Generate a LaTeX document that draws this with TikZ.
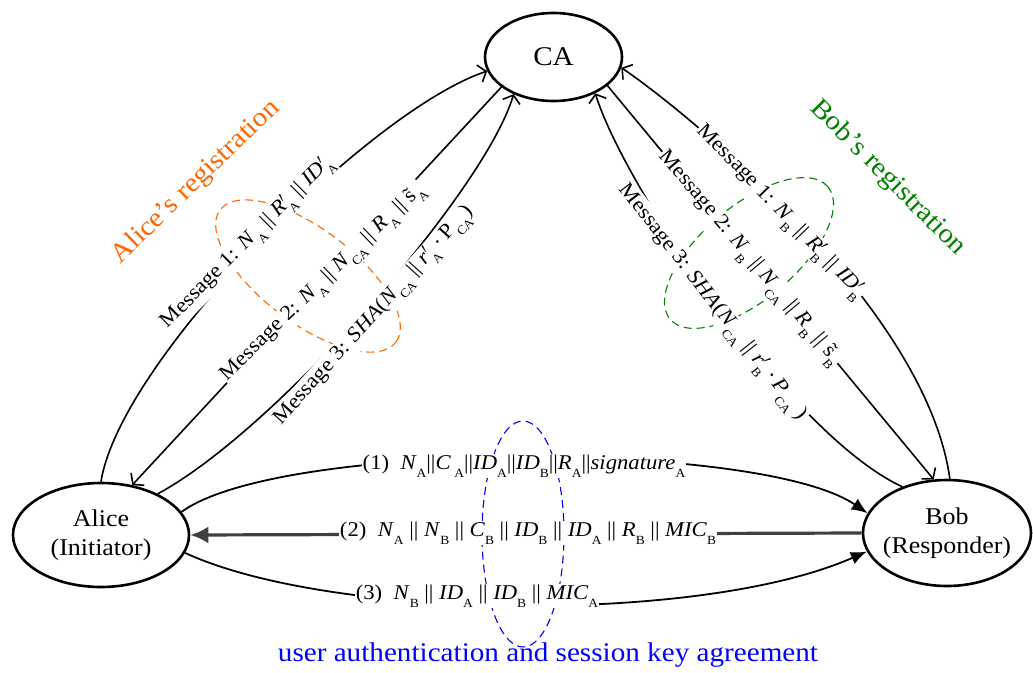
\documentclass[tikz,border=0pt]{standalone}
\usepackage{fontspec}
\setmainfont{Liberation Serif}[FakeStretch=1.08]
\usetikzlibrary{arrows.meta,shapes.geometric}

\definecolor{alicereg}{RGB}{255,102,0}
\definecolor{bobreg}{RGB}{0,128,0}
\definecolor{authblue}{RGB}{0,0,255}
\definecolor{replygray}{RGB}{64,64,64}

% lowered upright subscript, and the same with a prime above it
\newcommand\lo[1]{\raisebox{-8pt}{\fontsize{12.5}{12.5}\selectfont #1}}
\newcommand\lp[1]{\rlap{$^{\prime}$}\lo{#1}}

\tikzset{
  party/.style={draw, ellipse, line width=2.6pt, inner xsep=-30pt, inner ysep=0pt,
    align=center, fill=white},
  reg/.style={line width=1.6pt, -{Straight Barb[length=7pt,width=18pt,line width=1.6pt]}},
  fwd/.style={line width=1.8pt, -{Latex[length=16pt,width=13pt]}},
  back/.style={line width=3.2pt, draw=replygray, -{Latex[length=18pt,width=17pt]}},
  msg/.style={fill=white, inner sep=1pt, anchor=mid, font=\fontsize{21}{24}\selectfont},
  group/.style={line width=1.1pt, dash pattern=on 8pt off 5pt},
  title/.style={font=\fontsize{27}{30}\selectfont, anchor=mid},
}

\begin{document}
\begin{tikzpicture}[x=1pt,y=-1pt]
\useasboundingbox (0,0) rectangle (1033,672);

% parties
\node[party, minimum width=137pt, minimum height=88pt,
  font=\fontsize{27}{30}\selectfont] (ca) at (553.5,57) {CA};
\node[party, minimum width=176pt, minimum height=104pt,
  font=\fontsize{24}{29}\selectfont] (alice) at (101,535) {Alice\\(Initiator)};
\node[party, minimum width=168pt, minimum height=106pt,
  font=\fontsize{24}{29}\selectfont] (bob) at (947,533) {Bob\\(Responder)};

% phase groupings
\draw[group, alicereg, rotate around={-37:(308,276)}] (308,276) ellipse [x radius=110pt, y radius=47pt];
\draw[group, bobreg, rotate around={40:(749,253)}] (749,253) ellipse [x radius=103pt, y radius=47pt];
\draw[group, authblue] (523,534) ellipse [x radius=41pt, y radius=113pt];

% Alice's registration
\draw[reg] (alice.90) .. controls (120,360) and (370,110) .. (ca.192);
\draw[reg] (ca.210) -- (alice.58);
\draw[reg] (alice.36) .. controls (275,431) and (485,191) .. (ca.223);

% Bob's registration
\draw[reg] (bob.87) .. controls (925,300) and (670,100) .. (ca.-9);
\draw[reg] (ca.-28) -- (bob.104);
\draw[reg] (bob.134) .. controls (790,435) and (624,186) .. (ca.-41);

% authentication and key agreement
\draw[fwd] (alice.16) .. controls (280,440) and (760,440) .. (bob.166);
\draw[back] (bob.west) -- (alice.east);
\draw[fwd] (alice.-12) .. controls (330,620) and (700,625) .. (bob.193.7);

% message labels
\node[msg, rotate=45] (m1a) at (249,244)
  {Message 1: \textit{N}\lo{A} || \textit{R}\lp{A} || \textit{ID}\lp{A}};
\node[msg, rotate=44] (m2a) at (324,284)
  {Message 2: \textit{N}\lo{A} || \textit{N}\lo{CA} || \textit{R}\lo{A} || s̃\lo{A}};
\node[msg, rotate=48] (m3a) at (376,317)
  {Message 3: \textit{SHA}(\textit{N}\lo{CA} || \textit{r}\lp{A}\,·\,P\lo{CA})};

\node[msg, rotate=-46] (m1b) at (779,213)
  {Message 1: \textit{N}\lo{B} || \textit{R}\lp{B} || \textit{ID}\lp{B}};
\node[msg, rotate=-50] (m2b) at (748,259)
  {Message 2: \textit{N}\lo{B} || \textit{N}\lo{CA} || \textit{R}\lo{B} || s̃\lo{B}};
\node[msg, rotate=-52] (m3b) at (711,304)
  {Message 3: \textit{SHA}(\textit{N}\lo{CA} || \textit{r}\lp{B}\,·\,\textit{P}\lo{CA} )};

\node[msg] (l1) at (524,467)
  {(1)~~\textit{N}\lo{A}||\textit{C}\,\lo{A}||\textit{ID}\lo{A}||\textit{ID}\lo{B}||\textit{R}\lo{A}||\textit{signature}\lo{A}};
\node[msg] (l2) at (528,534)
  {(2)~~\textit{N}\lo{A} || \textit{N}\lo{B} || \textit{C}\lo{B} || \textit{ID}\lo{B} || \textit{ID}\lo{A} || \textit{R}\lo{B} || \textit{MIC}\lo{B}};
\node[msg] (l3) at (477,597)
  {(3)~~\textit{N}\lo{B} || \textit{ID}\lo{A} || \textit{ID}\lo{B} || \textit{MIC}\lo{A}};

% phase titles
\node[title, alicereg, rotate=44] (areg) at (199,185) {Alice’s registration};
\node[title, bobreg, rotate=-45] (breg) at (885,181) {Bob’s registration};
\node[title, authblue] (auth) at (548,659) {user authentication and session key agreement};
\end{tikzpicture}
\end{document}
